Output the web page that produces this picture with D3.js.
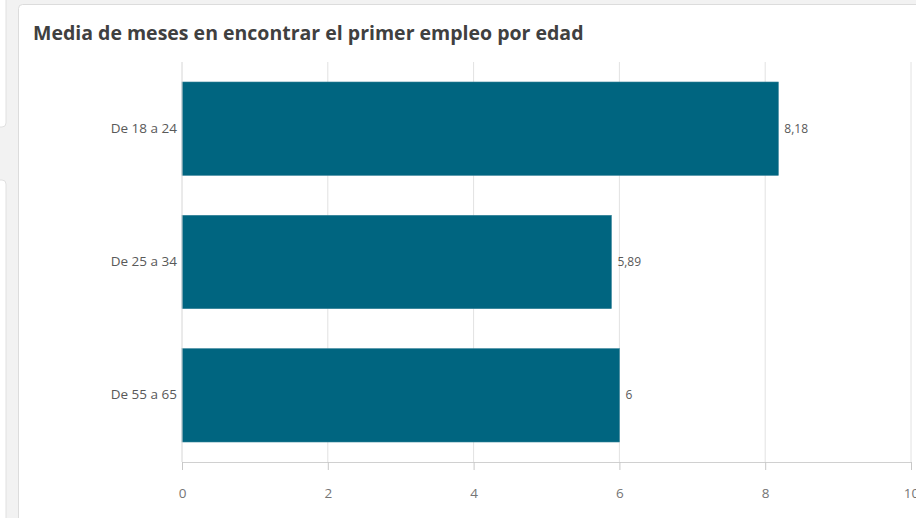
<!DOCTYPE html>
<html>
<head>
<meta charset="utf-8">
<script src="https://cdn.jsdelivr.net/npm/d3@7"></script>
<style>
  body { margin: 0; background: #f2f2f2; font-family: "Open Sans", Lato, sans-serif; }
  #wrap { position: relative; width: 916px; height: 518px; overflow: hidden; }
</style>
</head>
<body>
<div id="wrap"></div>
<script>
// chart data
const categories = ["De 18 a 24", "De 25 a 34", "De 55 a 65"];
const values = [8.18, 5.89, 6];
const valueLabels = ["8,18", "5,89", "6"];
const xTicks = [0, 2, 4, 6, 8, 10];

const W = 916, H = 518;
const margin = {top: 62, right: 5, bottom: 56, left: 182};

let svg = d3.select("#wrap").append("svg")
    .attr("width", W)
    .attr("height", H);

// background cards
svg.append("rect").attr("x", -10).attr("y", -10).attr("width", 16).attr("height", 137)
    .attr("rx", 4).attr("fill", "#fff").attr("stroke", "#e0e0e0");
svg.append("rect").attr("x", -10).attr("y", 180).attr("width", 16).attr("height", 360)
    .attr("rx", 4).attr("fill", "#fff").attr("stroke", "#e0e0e0");
svg.append("rect").attr("x", 18.5).attr("y", 4.5).attr("width", 910).attr("height", 530)
    .attr("rx", 4).attr("fill", "#fff").attr("stroke", "#dcdcdc");

svg.append("text")
    .attr("x", 33).attr("y", 40)
    .style("font-size", "19.5px")
    .style("font-weight", "bold")
    .attr("fill", "#404040")
    .text("Media de meses en encontrar el primer empleo por edad");

let g = svg.append("g");

var x = d3.scaleLinear()
    .domain([0, 10])
    .range([margin.left, 911]);

var y = d3.scaleBand()
    .domain(categories)
    .range([margin.top, H - margin.bottom])
    .paddingInner(0.3)
    .paddingOuter(0.15);

// gridlines
g.append("g").selectAll("line")
    .data(xTicks.slice(1))
    .enter().append("line")
    .attr("x1", d => x(d)).attr("x2", d => x(d))
    .attr("y1", margin.top).attr("y2", H - margin.bottom)
    .attr("stroke", "#e2e2e2");

// bars
g.append("g").selectAll("rect")
    .data(values)
    .enter().append("rect")
    .attr("x", x(0))
    .attr("y", (d, i) => y(categories[i]))
    .attr("width", d => x(d) - x(0))
    .attr("height", y.bandwidth())
    .attr("fill", "#006580")
    .attr("stroke", "#2f7f95")
    .attr("stroke-width", 0.6);

// value labels
g.append("g").selectAll("text")
    .data(values)
    .enter().append("text")
    .attr("x", d => x(d) + 6)
    .attr("y", (d, i) => y(categories[i]) + y.bandwidth() / 2 + 4)
    .style("font-size", "12px")
    .attr("fill", "#595959")
    .text((d, i) => valueLabels[i]);

// y axis line + labels
g.append("line")
    .attr("x1", x(0)).attr("x2", x(0))
    .attr("y1", margin.top).attr("y2", H - margin.bottom)
    .attr("stroke", "#d6d6d6");

g.append("g").selectAll("text")
    .data(categories)
    .enter().append("text")
    .attr("x", x(0) - 5)
    .attr("y", d => y(d) + y.bandwidth() / 2 + 4)
    .attr("text-anchor", "end")
    .style("font-size", "13.5px")
    .attr("fill", "#595959")
    .text(d => d);

// x axis
let xAxis = g.append("g")
    .attr("transform", "translate(0," + (H - margin.bottom) + ")")
    .call(d3.axisBottom(x).tickValues(xTicks).tickSize(8).tickPadding(18));
xAxis.select(".domain").attr("stroke", "#d0d0d0");
xAxis.selectAll(".tick line").attr("stroke", "#c8c8c8");
xAxis.selectAll(".tick text")
    .attr("fill", "#757575")
    .style("font-size", "13.5px")
    .style("font-family", "'Open Sans', Lato, sans-serif");
</script>
</body>
</html>
